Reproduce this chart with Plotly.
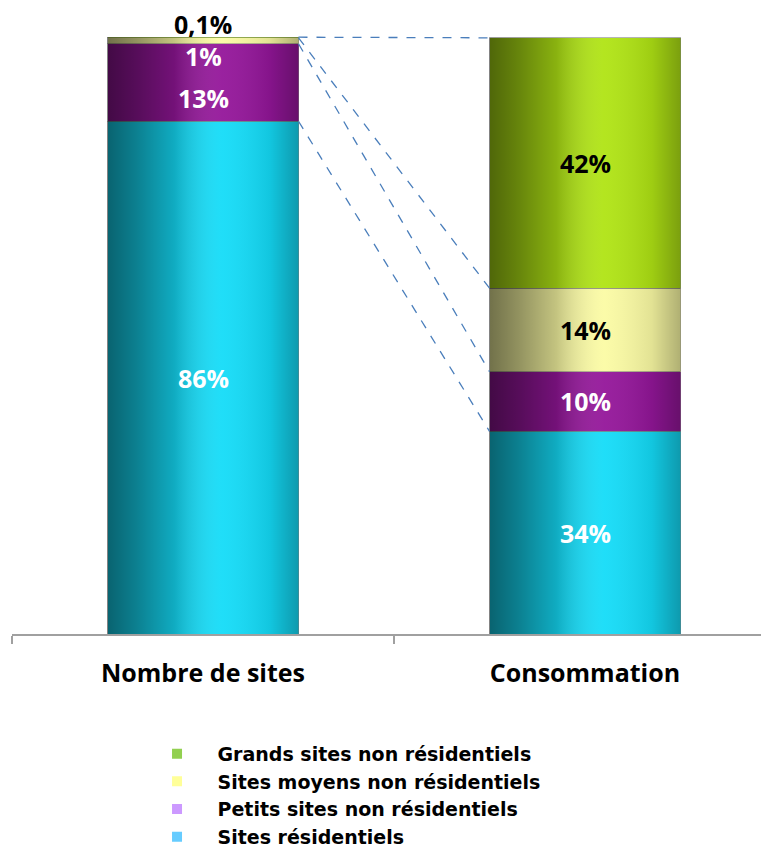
import plotly.graph_objects as go

categories = ["Nombre de sites", "Consommation"]
series_names = ["Sites résidentiels", "Petits sites non résidentiels",
                "Sites moyens non résidentiels", "Grands sites non résidentiels"]
residentiels = [86, 34]
petits = [13, 10]
moyens = [1, 14]
grands = [0.1, 42]
label_text = {
    "Sites résidentiels": ["86%", "34%"],
    "Petits sites non résidentiels": ["13%", "10%"],
    "Sites moyens non résidentiels": ["1%", "14%"],
    "Grands sites non résidentiels": ["0,1%", "42%"],
}

series_values = [residentiels, petits, moyens, grands]
bar_colors = ["#14dcf8", "#94169a", "#fbfba4", "#b0e414"]
legend_colors = ["#66ccff", "#cc99ff", "#ffff99", "#92d050"]
label_colors = [["white", "white"], ["white", "white"], ["white", "black"], ["black", "black"]]
# pixel nudges for crowded labels (layout only)
label_shift = [[0, 0], [-15, 0], [-15, 0], [14, 0]]

BAR_W = 0.5
FONT_LBL = "Open Sans"

fig = go.Figure()

for name, vals, col in zip(series_names, series_values, bar_colors):
    fig.add_trace(go.Bar(
        x=categories, y=vals, name=name, width=BAR_W,
        marker=dict(color=col, line=dict(color="rgba(120,120,120,0.55)", width=1)),
        showlegend=False, hoverinfo="x+y+name",
    ))

# cumulative tops
tops = []
run = [0, 0]
for vals in series_values:
    run = [r + v for r, v in zip(run, vals)]
    tops.append(list(run))

# cylinder-like shading overlay
for i in range(len(categories)):
    x0, x1 = i - BAR_W / 2, i + BAR_W / 2
    h = tops[-1][i]
    fig.add_trace(go.Scatter(
        x=[x0, x1, x1, x0, x0], y=[0, 0, h, h, 0], xaxis="x2",
        mode="lines", line=dict(width=0), fill="toself",
        fillgradient=dict(type="horizontal", colorscale=[
            [0.0, "rgba(0,0,0,0.55)"], [0.15, "rgba(0,0,0,0.42)"],
            [0.35, "rgba(0,0,0,0.22)"], [0.6, "rgba(255,255,255,0.05)"],
            [0.85, "rgba(0,0,0,0.1)"], [1.0, "rgba(0,0,0,0.3)"]]),
        showlegend=False, hoverinfo="skip",
    ))

# series connector lines
for k in range(len(series_names)):
    fig.add_trace(go.Scatter(
        x=[0 + BAR_W / 2, 1 - BAR_W / 2], y=[tops[k][0], tops[k][1]], xaxis="x2",
        mode="lines", line=dict(color="#4a7ebb", width=1.3, dash="dash"),
        showlegend=False, hoverinfo="skip",
    ))

# legend entries (top to bottom)
for name, col in reversed(list(zip(series_names, legend_colors))):
    fig.add_trace(go.Scatter(
        x=[None], y=[None], mode="markers", name=name,
        marker=dict(symbol="square", size=10, color=col),
    ))

# data labels
for k, name in enumerate(series_names):
    for i in range(len(categories)):
        base = tops[k][i] - series_values[k][i]
        mid = base + series_values[k][i] / 2
        fig.add_annotation(
            x=i, y=mid, xref="x2", yref="y", text=label_text[name][i],
            showarrow=False, yshift=label_shift[k][i], height=26, borderpad=0,
            font=dict(family=FONT_LBL, size=25, color=label_colors[k][i], weight="bold"),
        )

XR = [-0.5, -0.5 + 757 / 382]
fig.update_layout(
    width=761, height=843,
    margin=dict(l=4, r=0, t=0, b=217, autoexpand=False),
    paper_bgcolor="white", plot_bgcolor="white",
    barmode="stack", bargap=0.5,
    xaxis=dict(type="category", range=XR, tickson="boundaries", ticks="outside",
               ticklen=8, tickcolor="#a0a0a0", tickwidth=1.5,
               showline=True, linecolor="#a0a0a0", linewidth=2,
               showgrid=False, zeroline=False, automargin=False,
               tickfont=dict(family=FONT_LBL, size=25, color="black", weight="bold"),
               ticklabelstandoff=16),
    xaxis2=dict(overlaying="x", range=XR, visible=False, matches=None),
    yaxis=dict(range=[0, 105], visible=False, showgrid=False, zeroline=False,
               automargin=False),
    legend=dict(x=0.1645, xanchor="left", y=-0.161, yanchor="top",
                traceorder="normal", tracegroupgap=0,
                font=dict(family="DejaVu Sans", size=19, color="black", weight="bold"),
                itemwidth=71),
    showlegend=True,
)

fig.write_html("out.html")
